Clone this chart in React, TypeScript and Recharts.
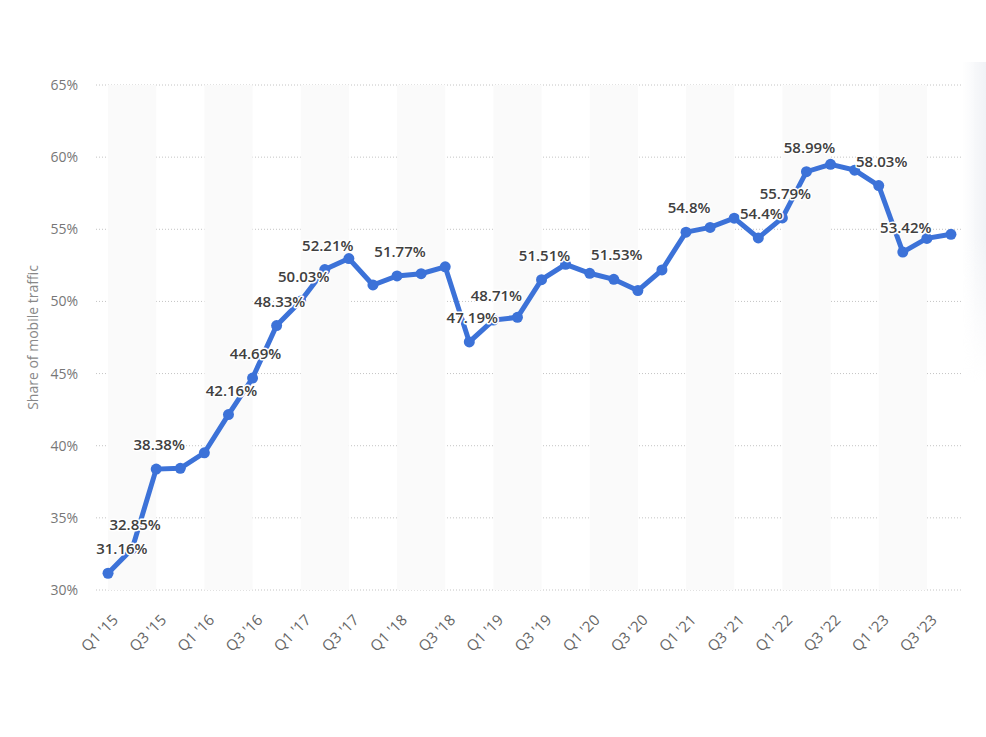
import React from "react";
import {
  LineChart,
  Line,
  XAxis,
  YAxis,
  CartesianGrid,
  ReferenceArea,
  LabelList,
} from "recharts";

const quarters = [
  "Q1 '15", "Q2 '15", "Q3 '15", "Q4 '15",
  "Q1 '16", "Q2 '16", "Q3 '16", "Q4 '16",
  "Q1 '17", "Q2 '17", "Q3 '17", "Q4 '17",
  "Q1 '18", "Q2 '18", "Q3 '18", "Q4 '18",
  "Q1 '19", "Q2 '19", "Q3 '19", "Q4 '19",
  "Q1 '20", "Q2 '20", "Q3 '20", "Q4 '20",
  "Q1 '21", "Q2 '21", "Q3 '21", "Q4 '21",
  "Q1 '22", "Q2 '22", "Q3 '22", "Q4 '22",
  "Q1 '23", "Q2 '23", "Q3 '23", "Q4 '23",
];

const mobileShare = [
  31.16, 32.85, 38.38, 38.43,
  39.51, 42.16, 44.69, 48.33,
  50.03, 52.21, 52.97, 51.14,
  51.77, 51.92, 52.4, 47.19,
  48.71, 48.9, 51.51, 52.57,
  51.95, 51.53, 50.75, 52.18,
  54.8, 55.13, 55.77, 54.4,
  55.79, 58.99, 59.5, 59.1,
  58.03, 53.42, 54.37, 54.65,
];

// quarters that carry a value label in the original
const labeledQuarters = [
  "Q1 '15", "Q2 '15", "Q3 '15", "Q2 '16", "Q3 '16", "Q4 '16",
  "Q1 '17", "Q2 '17", "Q1 '18", "Q4 '18", "Q1 '19", "Q3 '19",
  "Q2 '20", "Q1 '21", "Q4 '21", "Q1 '22", "Q2 '22", "Q1 '23", "Q2 '23",
];

const yTicks = [30, 35, 40, 45, 50, 55, 60, 65];

const data = quarters.map((q, i) => ({
  idx: i,
  quarter: q,
  share: mobileShare[i],
  label: labeledQuarters.includes(q) ? `${mobileShare[i]}%` : null,
}));

const xTicks = data.filter((d) => d.idx % 2 === 0).map((d) => d.idx);
const bandStarts = data.filter((d) => d.quarter.startsWith("Q1")).map((d) => d.idx);

const BLUE = "#3c72d8";
const MARGIN = { top: 85, right: 23, bottom: 67, left: 28 };
const Y_AXIS_W = 68;
const PLOT_LEFT = MARGIN.left + Y_AXIS_W;
const PLOT_RIGHT = 986 - MARGIN.right;

const XTick = (props: any) => {
  const { x, y, payload } = props;
  return (
    <g transform={`translate(${x + 11},${y + 31})`}>
      <text
        textAnchor="end"
        transform="rotate(-45)"
        fontSize={15}
        fill="#666"
        fontFamily="Open Sans"
      >
        {quarters[payload.value]}
      </text>
    </g>
  );
};

const renderLabel = (props: any) => {
  const { x, y, value } = props;
  if (value == null) return null;
  const s = String(value);
  // rough text width, to keep the label inside the plot like the original
  const w = s.replace(/[^0-9]/g, "").length * 8.6 + (s.includes(".") ? 4.3 : 0) + 13;
  let cx = x + 3;
  if (cx - w / 2 < PLOT_LEFT) cx = PLOT_LEFT + w / 2;
  if (cx + w / 2 > PLOT_RIGHT) cx = PLOT_RIGHT - w / 2;
  return (
    <text
      x={cx}
      y={y - 19}
      textAnchor="middle"
      fontFamily="Open Sans"
      fontWeight={600}
      fontSize={15}
      fill="#404040"
      stroke="#fff"
      strokeWidth={3}
      strokeLinejoin="round"
      paintOrder="stroke"
    >
      {s}
    </text>
  );
};

export default function App() {
  return (
    <div style={{ position: "absolute", left: 0, top: 0, width: 986, height: 737, background: "#fff" }}>
      <LineChart width={986} height={737} data={data} margin={MARGIN}>
        {bandStarts.map((s) => (
          <ReferenceArea
            key={s}
            x1={s}
            x2={s + 2}
            fill="#fafafa"
            fillOpacity={1}
            stroke="none"
            ifOverflow="visible"
          />
        ))}
        <CartesianGrid vertical={false} stroke="#c4c4c4" strokeDasharray="1 2" />
        <XAxis
          dataKey="idx"
          type="number"
          domain={[-0.5, 35.5]}
          allowDataOverflow
          ticks={xTicks}
          interval={0}
          tick={<XTick />}
          axisLine={false}
          tickLine={false}
          tickSize={0}
          tickMargin={0}
          height={80}
        />
        <YAxis
          domain={[30, 65]}
          ticks={yTicks}
          interval={0}
          tickFormatter={(v: number) => `${v}%`}
          axisLine={false}
          tickLine={false}
          tickSize={0}
          tickMargin={18}
          width={Y_AXIS_W}
          tick={{ fontSize: 14, fill: "#777", fontFamily: "Open Sans" }}
          label={{
            value: "Share of mobile traffic",
            angle: -90,
            position: "insideLeft",
            offset: 5,
            style: { textAnchor: "middle", fontSize: 14, fill: "#888", fontFamily: "Open Sans" },
          }}
        />
        <Line
          type="linear"
          dataKey="share"
          stroke={BLUE}
          strokeWidth={5}
          dot={{ r: 5.5, fill: BLUE, stroke: BLUE, strokeWidth: 0 }}
          activeDot={false}
          isAnimationActive={false}
        >
          <LabelList dataKey="label" content={renderLabel} />
        </Line>
      </LineChart>
      <div
        style={{
          position: "absolute",
          left: 963,
          top: 62,
          width: 23,
          height: 320,
          background: "linear-gradient(to right, rgba(240,242,246,0), rgba(240,242,246,1))",
          WebkitMaskImage: "linear-gradient(to bottom, black 55%, transparent)",
          maskImage: "linear-gradient(to bottom, black 55%, transparent)",
        }}
      />
    </div>
  );
}
